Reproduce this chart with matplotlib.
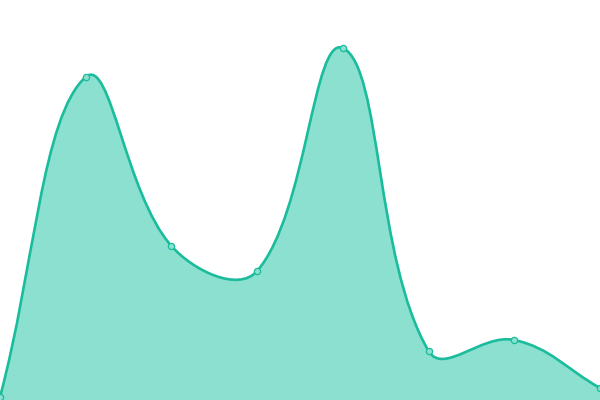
import matplotlib
matplotlib.use("Agg")
import matplotlib.pyplot as plt
from matplotlib.path import Path
from matplotlib.patches import PathPatch
import numpy as np

labels = ["A", "B", "C", "D", "E", "F", "G", "H"]
values = [3, 323, 154, 129, 352, 49, 60, 12]

line_color = "#1abc9c"
fill_color = "#8be0cf"
tension = 0.4

W, H = 600, 400
fig = plt.figure(figsize=(W / 100, H / 100), dpi=100)
ax = fig.add_axes([0, 0, 1, 1])
ax.set_xlim(0, len(values) - 1)
ax.set_ylim(0, 400)
ax.axis("off")

# work in pixel space for the control points (like chart.js splineCurve)
xs = np.arange(len(values)) * W / (len(values) - 1)
ys = np.array(values, dtype=float)
pts = np.column_stack([xs, ys])

cps = []
n = len(pts)
for i in range(n):
    prev = pts[max(i - 1, 0)]
    cur = pts[i]
    nxt = pts[min(i + 1, n - 1)]
    d01 = np.hypot(*(cur - prev))
    d12 = np.hypot(*(nxt - cur))
    tot = d01 + d12
    s01 = d01 / tot if tot else 0
    s12 = d12 / tot if tot else 0
    fa = tension * s01
    fb = tension * s12
    cp_prev = cur - fa * (nxt - prev)
    cp_next = cur + fb * (nxt - prev)
    cp_prev = np.clip(cp_prev, [0, 0], [W, H])
    cp_next = np.clip(cp_next, [0, 0], [W, H])
    cps.append((cp_prev, cp_next))

def to_data(p):
    return (p[0] * (n - 1) / W, p[1])

verts = [to_data(pts[0])]
codes = [Path.MOVETO]
for i in range(n - 1):
    verts += [to_data(cps[i][1]), to_data(cps[i + 1][0]), to_data(pts[i + 1])]
    codes += [Path.CURVE4] * 3

line_path = Path(verts, codes)
fill_verts = verts + [(n - 1, 0), (0, 0), verts[0]]
fill_codes = codes + [Path.LINETO, Path.LINETO, Path.CLOSEPOLY]
ax.add_patch(PathPatch(Path(fill_verts, fill_codes), facecolor=fill_color,
                       edgecolor="none", zorder=1))
ax.add_patch(PathPatch(line_path, facecolor="none", edgecolor=line_color,
                       lw=1.9, zorder=2, clip_on=False))

ax.plot(range(n), values, linestyle="none", marker="o", markersize=4.5,
        markerfacecolor=fill_color, markeredgecolor=line_color,
        markeredgewidth=0.9, zorder=3, clip_on=False)

fig.savefig("out.png", dpi=100)
